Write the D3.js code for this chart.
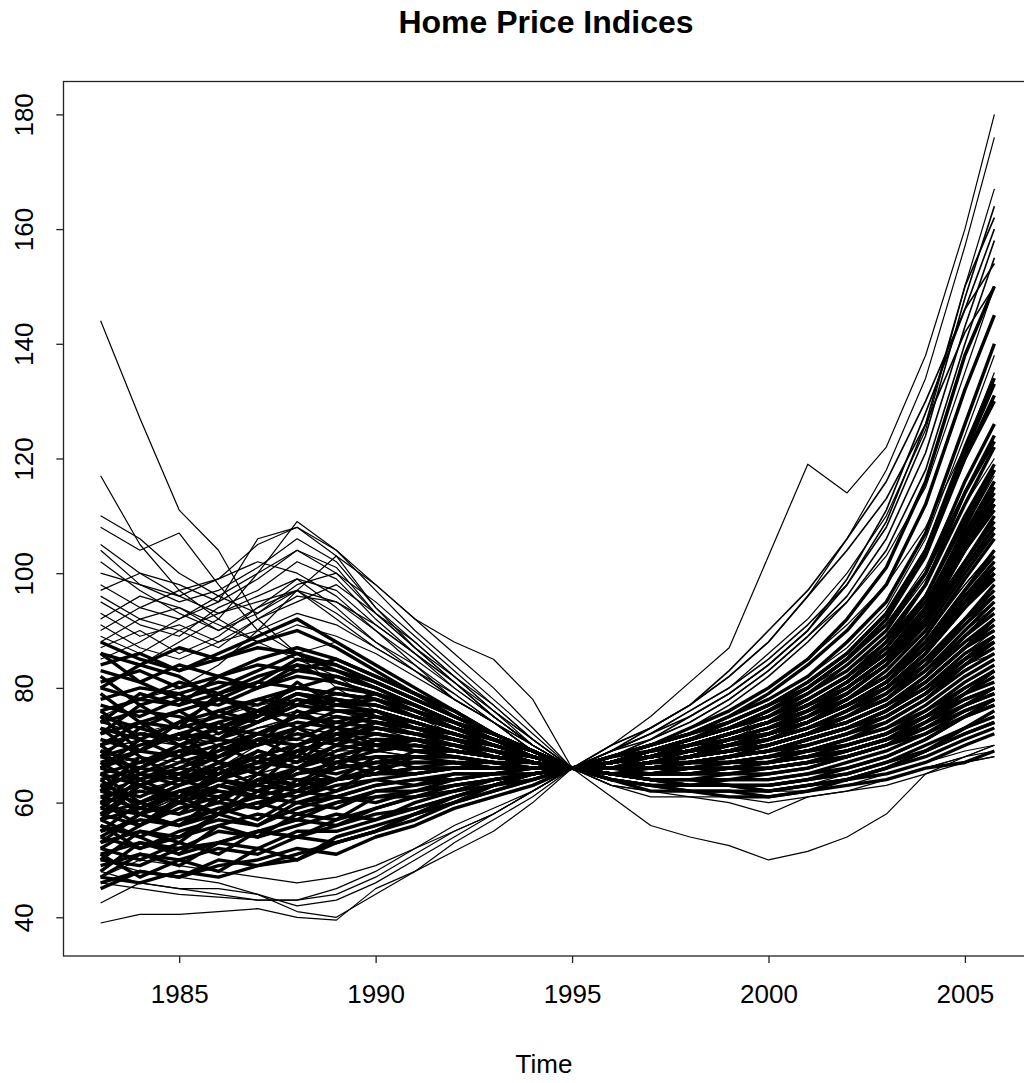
<!DOCTYPE html>
<html>
<head>
<meta charset="utf-8">
<script src="https://cdn.jsdelivr.net/npm/d3@7"></script>
<style>
  body { margin: 0; background: #fff; }
  svg { display: block; }
  text { font-family: "Liberation Sans", Arial, sans-serif; fill: #000; }
</style>
</head>
<body>
<script>
// time points (annual, last one is 2005 Q4)
var years = [1983, 1984, 1985, 1986, 1987, 1988, 1989, 1990, 1991, 1992, 1993, 1994,
             1995, 1996, 1997, 1998, 1999, 2000, 2001, 2002, 2003, 2004, 2005, 2005.75];

var xTicks = [1985, 1990, 1995, 2000, 2005];
var yTicks = [40, 60, 80, 100, 120, 140, 160, 180];

// lines that stand out from the mass
var outlierSeries = [
  [144,127,111,104,92,86,80,76,73,71,69,68,66, 67,68,69,70,72,74,77,80,84,88,90],
  [39,40.5,40.5,41,41.5,40,39.5,45,48,51.5,55,60,66, 63,62,62,61,61,62,63,64,66,68,69],
  [60,62,64,66,70,72,71,70,69,68,67,67,66, 70,75,81,87,103,119,114,122,138,160,180],
  [63,65,67,66,68,70,69,69,68,67,67,66,66, 70,73,77,82,88,96,106,118,134,157,176],
  [70,72,74,75,77,78,76,74,72,70,68,67,66, 61,56,54,52.5,50,51.5,54,58,65,68,70],
  [66,68,67,69,71,73,72,71,70,68,67,66,66, 69,72,76,80,86,92,100,110,125,150,167],
  [104,98,96,99,105,108,104,98,92,88,85,78,66, 67,68,69,71,74,77,80,84,90,98,104],
  [117,105,97,92,88,85,82,78,75,72,70,68,66, 66,67,68,69,70,72,74,77,80,84,86],
  [110,106,100,96,93,97,95,90,84,78,74,70,66, 67,69,71,73,76,79,83,88,95,105,112],
  [108,104,107,98,90,86,88,84,80,76,72,69,66, 66,66,67,68,70,72,75,78,83,90,94],
  [85,88,92,95,106,108,103,94,88,82,76,71,66, 68,70,73,76,80,85,91,98,108,122,135],
  [80,84,88,92,100,109,104,97,90,84,78,72,66, 68,71,74,78,83,89,95,103,115,135,150],
  [75,78,80,84,90,97,103,98,92,86,80,73,66, 67,68,70,72,75,78,82,87,95,106,113]
];

// low lines on the left
var lowerSeries = [
  [42.5,46,45,44,43,43,44,47,51,55,58,62,66, 64,62,61,61,60,61,62,64,66,67,68],
  [46,45,44,43.5,43,43,45,48,52,56,59,62,66, 63,62,62,62,61,62,63,65,67,69,70],
  [48,46,45,45,44,42,43,46,50,54,58,62,66, 65,64,63,63,62,63,65,67,70,73,75],
  [50,48,47,46,44,41,40,44,48,53,57,61,66, 64,63,62,62,62,62,63,64,66,68,70],
  [47,50,49,48,47,46,47,49,52,55,58,62,66, 63,61,61,60,58,61,62,63,65,67,68]
];

// the main band
var coreSeries = [
  [46,48,47,49,50,52,51,54,56,59,61,63,66, 64,63,62,62,61,62,63,64,66,67,69],
  [47,46,48,47,49,50,53,55,57,60,62,64,66, 65,64,63,63,62,63,64,65,67,70,72],
  [49,51,50,52,51,54,53,55,58,60,62,64,66, 64,62,62,61,61,62,64,66,69,73,76],
  [50,49,52,53,55,54,56,58,59,61,63,64,66, 66,66,67,68,69,71,73,76,80,85,88],
  [51,53,52,55,54,56,58,57,60,62,63,65,66, 65,65,66,66,67,68,70,72,75,79,82],
  [52,50,53,51,55,57,56,59,61,62,64,65,66, 67,68,69,70,72,74,77,81,87,95,100],
  [53,55,54,56,58,57,60,61,62,63,64,65,66, 64,63,63,64,64,65,66,68,71,75,78],
  [54,52,55,57,56,59,61,60,62,63,64,65,66, 66,67,68,69,70,72,75,79,85,92,98],
  [55,57,56,58,60,62,61,63,64,64,65,66,66, 67,69,71,73,76,80,85,92,103,120,130],
  [56,54,57,59,61,60,62,64,63,65,65,66,66, 65,64,64,64,65,66,68,70,74,79,83],
  [57,59,58,60,59,62,64,65,66,66,66,66,66, 66,66,67,68,69,70,72,74,78,83,86],
  [58,56,59,61,63,62,64,66,67,67,66,66,66, 67,68,70,72,74,77,81,86,94,106,114],
  [58,60,62,61,64,66,65,67,68,68,67,67,66, 65,65,65,66,66,67,69,71,74,78,80],
  [59,58,60,63,62,65,67,68,68,68,67,66,66, 66,67,68,69,71,73,76,80,86,95,101],
  [60,62,61,64,66,68,67,69,70,69,68,67,66, 67,68,69,71,73,76,80,85,94,108,118],
  [61,59,62,64,63,66,68,70,69,69,68,67,66, 64,63,62,62,62,63,64,66,68,71,73],
  [61,63,65,64,67,69,71,70,70,69,68,67,66, 66,66,67,68,70,72,74,77,82,88,92],
  [62,60,63,65,67,66,69,71,71,70,68,67,66, 67,69,71,74,77,81,86,93,104,122,134],
  [63,65,64,66,68,70,72,72,71,70,69,67,66, 65,65,66,66,67,69,71,73,77,82,85],
  [63,61,64,67,66,69,71,73,72,71,69,67,66, 66,67,69,70,72,75,78,83,90,100,107],
  [64,66,65,68,70,72,71,73,72,71,69,68,66, 67,68,70,72,74,78,82,88,98,114,124],
  [65,63,66,65,68,70,72,74,73,71,69,68,66, 65,64,64,65,65,66,68,70,73,77,79],
  [65,67,69,68,71,73,75,74,73,71,70,68,66, 66,66,67,68,69,71,73,76,81,87,90],
  [66,64,67,69,71,70,73,75,74,72,70,68,66, 67,68,69,71,73,75,79,84,92,104,111],
  [67,69,68,70,72,75,74,76,74,72,70,68,66, 68,70,72,75,79,84,90,98,112,132,145],
  [68,66,69,71,70,73,76,75,73,72,70,68,66, 65,65,65,65,66,67,68,70,72,75,77],
  [68,70,72,71,74,77,76,76,74,72,70,68,66, 66,67,68,69,71,74,77,81,88,97,103],
  [69,67,70,73,72,75,77,77,75,73,71,68,66, 67,68,70,72,74,77,81,87,96,110,119],
  [70,72,71,73,75,78,77,78,75,73,71,69,66, 66,66,66,67,68,69,71,73,76,80,83],
  [71,69,72,74,76,75,78,77,75,73,71,69,66, 67,69,71,73,76,80,85,92,104,121,133],
  [72,74,73,75,74,77,79,78,76,74,71,69,66, 65,64,64,63,63,64,65,67,70,73,75],
  [73,71,74,76,78,77,80,79,76,73,71,69,66, 66,67,68,70,72,74,78,82,89,99,106],
  [74,76,75,73,76,79,78,77,75,73,71,69,66, 67,68,69,71,73,75,78,82,88,96,101],
  [75,73,76,78,77,80,79,78,76,74,71,69,66, 68,70,73,76,80,85,92,101,116,138,150],
  [76,78,77,79,81,80,82,80,77,74,72,69,66, 66,66,67,68,69,71,73,75,79,84,87],
  [77,75,78,77,80,82,81,79,77,74,71,69,66, 67,68,70,71,73,76,79,84,91,101,108],
  [78,80,79,81,80,83,82,80,77,74,72,69,66, 65,65,65,66,66,67,68,70,73,76,78],
  [80,78,81,79,82,84,83,81,78,75,72,69,66, 67,69,71,73,76,79,84,90,100,116,126],
  [81,83,80,82,84,83,85,82,79,76,72,69,66, 66,67,68,69,70,72,75,78,83,89,93],
  [83,81,84,82,85,87,85,82,79,75,72,69,66, 68,70,72,75,78,82,88,95,107,126,140],
  [84,86,83,85,87,86,84,81,78,75,72,69,66, 66,66,67,67,68,69,70,72,75,78,80],
  [86,84,87,85,88,90,87,83,79,76,72,69,66, 67,68,69,71,72,74,77,80,85,92,96],
  [88,85,83,86,89,92,88,84,80,76,72,69,66, 67,69,70,72,74,77,81,86,93,104,112],
  [55,60,58,63,61,66,64,68,66,67,66,66,66, 66,68,70,72,74,77,80,85,92,102,110],
  [60,56,61,58,64,62,67,65,68,67,67,66,66, 65,66,66,67,68,70,72,75,79,85,89],
  [64,59,62,60,65,63,68,66,69,68,67,66,66, 66,65,65,65,66,67,69,71,75,80,83],
  [70,65,68,64,69,67,72,69,71,69,68,67,66, 67,68,69,70,72,74,77,81,87,96,102],
  [75,69,72,67,71,68,73,70,71,69,68,67,66, 66,67,68,70,71,73,76,80,86,94,99],
  [57,63,60,66,63,69,66,71,69,69,68,67,66, 67,69,71,73,75,78,82,87,95,107,116],
  [62,68,64,70,67,73,70,74,72,70,69,67,66, 66,66,67,67,68,69,71,74,78,84,88],
  [53,58,56,61,59,64,62,66,65,66,66,66,66, 65,65,65,66,67,68,70,72,76,81,84],
  [66,71,68,74,70,76,73,76,73,71,69,67,66, 68,70,72,74,77,81,86,93,104,120,131],
  [72,77,73,79,75,81,77,79,76,73,70,68,66, 67,68,69,71,73,75,78,82,88,97,104],
  [48,53,51,56,54,58,57,61,61,63,64,65,66, 66,67,68,69,70,72,74,77,81,87,92],
  [51,47,50,48,52,50,54,56,58,61,63,65,66, 67,68,69,71,72,74,77,80,86,94,100],
  [45,48,47,50,49,51,53,55,58,60,63,65,66, 65,64,63,63,62,63,64,66,69,72,74],
  [59,64,66,69,72,74,73,72,71,70,68,67,66, 66,67,68,69,70,72,74,77,82,89,94],
  [67,63,60,62,61,63,64,65,66,66,66,66,66, 67,68,69,70,72,74,77,81,87,95,101],
  [73,68,64,62,61,60,61,63,64,65,65,66,66, 66,66,66,67,67,68,69,71,74,77,79],
  [79,74,70,67,65,64,64,65,65,66,66,66,66, 67,69,70,72,74,76,79,84,91,101,108],
  [50,55,53,58,56,60,59,62,62,64,65,65,66, 65,64,63,63,63,64,65,67,69,72,74],
  [54,58,62,60,64,63,66,67,67,67,66,66,66, 66,66,67,67,68,69,70,72,75,79,81],
  [58,63,61,65,68,66,70,69,70,69,68,67,66, 67,68,69,70,71,73,75,78,83,90,95],
  [62,66,70,68,72,71,74,73,72,71,69,67,66, 66,67,67,68,69,71,73,76,80,86,89],
  [68,73,71,76,74,78,76,76,74,72,70,68,66, 67,68,70,72,74,77,80,85,92,102,109],
  [74,79,77,82,80,84,81,79,77,74,71,69,66, 68,69,71,73,75,78,82,88,96,109,118],
  [82,77,79,75,78,80,79,78,76,73,71,68,66, 66,67,68,69,70,72,74,77,81,87,91],
  [86,81,78,80,83,86,83,80,77,74,71,68,66, 67,68,69,70,72,74,77,81,87,95,99],
  [52,56,60,58,62,61,64,65,66,66,66,66,66, 65,65,66,66,67,68,69,71,73,77,80],
  [56,52,54,58,60,58,60,62,63,64,65,65,66, 64,63,63,63,63,64,66,68,71,75,77],
  [60,65,63,67,65,70,68,70,69,68,67,66,66, 66,67,68,70,72,75,79,84,92,104,112],
  [65,60,63,66,69,67,70,72,71,70,68,67,66, 67,69,71,73,75,79,83,89,98,112,122],
  [70,74,76,72,75,79,78,75,73,72,70,68,66, 66,67,67,68,69,71,73,76,80,85,88],
  [76,71,74,78,76,79,77,76,74,72,70,68,66, 67,68,69,71,73,76,80,85,93,105,113],
  [47,51,49,53,52,55,55,57,59,61,63,65,66, 66,66,67,68,69,70,72,75,79,85,89],
  [57,54,51,53,55,54,57,59,61,62,64,65,66, 66,67,68,70,71,73,76,79,84,91,96],
  [63,58,56,59,57,61,63,64,65,66,66,66,66, 65,64,64,64,64,65,67,69,72,76,78],
  [69,64,61,64,62,65,66,67,67,67,66,66,66, 66,67,68,69,70,72,75,78,84,92,97],
  [80,84,82,78,81,85,84,81,78,75,72,69,66, 67,69,70,72,74,77,81,86,94,106,115],
  [66,69,74,71,76,73,75,74,73,71,69,68,66, 68,70,72,74,77,80,85,91,100,114,123]
];

// lines high on the left before 1990
var upperSeries = [
  [92,96,94,90,93,98,100,95,89,83,77,71,66, 67,68,69,71,73,76,80,85,93,104,112],
  [95,91,89,94,97,102,99,92,86,81,75,70,66, 66,67,68,69,71,73,76,79,84,91,96],
  [97,100,98,95,99,104,101,93,87,81,75,70,66, 68,70,72,75,78,82,87,94,106,124,138],
  [100,98,95,97,101,106,102,94,87,81,75,70,66, 66,67,68,70,72,74,77,81,87,96,102],
  [90,94,97,99,102,100,96,90,85,80,75,70,66, 67,69,71,74,77,80,85,91,101,116,126],
  [105,100,96,93,95,97,93,88,84,79,74,70,66, 66,66,67,68,69,71,73,76,80,86,90],
  [88,92,90,93,96,99,94,88,83,79,74,69,66, 67,68,70,72,74,77,81,86,95,108,117],
  [93,89,91,88,90,93,91,87,83,78,74,69,66, 66,67,68,69,71,73,75,78,84,91,95],
  [98,94,92,96,100,104,100,93,87,82,76,71,66, 67,68,70,72,74,77,80,85,92,101,107],
  [89,86,90,87,92,95,98,93,88,82,77,71,66, 66,67,68,70,71,73,76,80,86,94,99],
  [102,97,93,90,94,99,97,91,86,80,75,70,66, 67,69,71,73,76,80,84,90,99,112,120],
  [87,90,86,89,94,97,92,87,83,78,74,69,66, 67,68,69,71,73,75,78,82,89,98,104],
  [91,87,85,88,92,96,95,91,86,81,76,70,66, 66,67,68,70,72,75,79,84,91,101,108],
  [96,92,94,91,88,91,89,86,82,78,74,69,66, 66,67,68,69,70,72,75,78,83,90,94]
];

// lines that climb steeply after 2000
var risingSeries = [
  [62,64,66,68,70,71,70,69,68,67,67,66,66, 69,72,76,80,85,91,98,108,124,148,164],
  [57,59,61,63,65,67,68,68,68,67,67,66,66, 69,71,75,79,84,90,98,109,126,150,162],
  [69,71,70,72,74,76,75,74,72,70,68,67,66, 68,71,74,78,83,89,96,106,121,143,158],
  [60,58,61,63,65,64,66,67,67,67,66,66,66, 68,70,73,77,82,88,95,104,118,140,155],
  [74,72,70,71,73,74,73,72,71,69,68,67,66, 69,72,75,79,84,90,99,111,128,146,160],
  [65,67,66,68,71,73,72,71,70,68,67,66,66, 69,73,77,82,88,96,104,113,126,142,150],
  [71,69,72,70,73,75,74,73,71,69,68,67,66, 70,73,77,83,90,97,106,116,130,146,154]
];

var width = 1024, height = 1083;

var svg = d3.select("body").append("svg")
    .attr("width", width)
    .attr("height", height);

// scales (R pads the data range by 4%)
var x = d3.scaleLinear().domain([1982.05, 2006.7]).range([63.3, 1031.7]);
var y = d3.scaleLinear().domain([33.25, 185.7]).range([956, 81.7]);

var line = d3.line()
    .x(function(d, i) { return x(years[i]); })
    .y(function(d) { return y(d); });

// draws one group of series; the dense middle gets a heavier pen
// so that it reads as the solid black mass of the original
function drawGroup(data, w) {
    svg.append("g")
        .selectAll("path")
        .data(data)
        .enter().append("path")
        .attr("d", line)
        .attr("fill", "none")
        .attr("stroke", "#000")
        .attr("stroke-width", w)
        .attr("stroke-linejoin", "round");
}

drawGroup(coreSeries, 3.4);
drawGroup(lowerSeries, 1.2);
drawGroup(upperSeries, 1.2);
drawGroup(risingSeries, 1.6);
drawGroup(outlierSeries, 1.2);

// box
svg.append("rect")
    .attr("x", 63.5)
    .attr("y", 81.5)
    .attr("width", 1031.7 - 63.5)
    .attr("height", 956 - 81.5)
    .attr("fill", "none")
    .attr("stroke", "#222")
    .attr("stroke-width", 1.3);

// axes
var xAxis = svg.append("g")
    .attr("transform", "translate(0,956)")
    .call(d3.axisBottom(x).tickValues(xTicks).tickFormat(d3.format("d")).tickSize(7).tickPadding(22));
xAxis.select(".domain").remove();
xAxis.selectAll("line").attr("stroke", "#222").attr("stroke-width", 1.3);
xAxis.selectAll("text")
    .style("font-size", "26px")
    .style("font-family", "Liberation Sans, Arial, sans-serif")
    .attr("fill", "#222");

var yAxis = svg.append("g")
    .attr("transform", "translate(63.3,0)")
    .call(d3.axisLeft(y).tickValues(yTicks).tickSize(7));
yAxis.select(".domain").remove();
yAxis.selectAll("line").attr("stroke", "#222").attr("stroke-width", 1.3);
yAxis.selectAll("text")
    .attr("x", null).attr("dy", null)
    .attr("text-anchor", "middle")
    .attr("transform", "translate(-30,0) rotate(-90)")
    .style("font-size", "26px")
    .style("font-family", "Liberation Sans, Arial, sans-serif")
    .attr("fill", "#222");

// title and axis label
svg.append("text")
    .attr("x", 546)
    .attr("y", 33)
    .attr("text-anchor", "middle")
    .style("font-size", "32px")
    .style("font-weight", "bold")
    .text("Home Price Indices");

svg.append("text")
    .attr("x", 544)
    .attr("y", 1073)
    .attr("text-anchor", "middle")
    .style("font-size", "26px")
    .attr("fill", "#222")
    .text("Time");
</script>
</body>
</html>
